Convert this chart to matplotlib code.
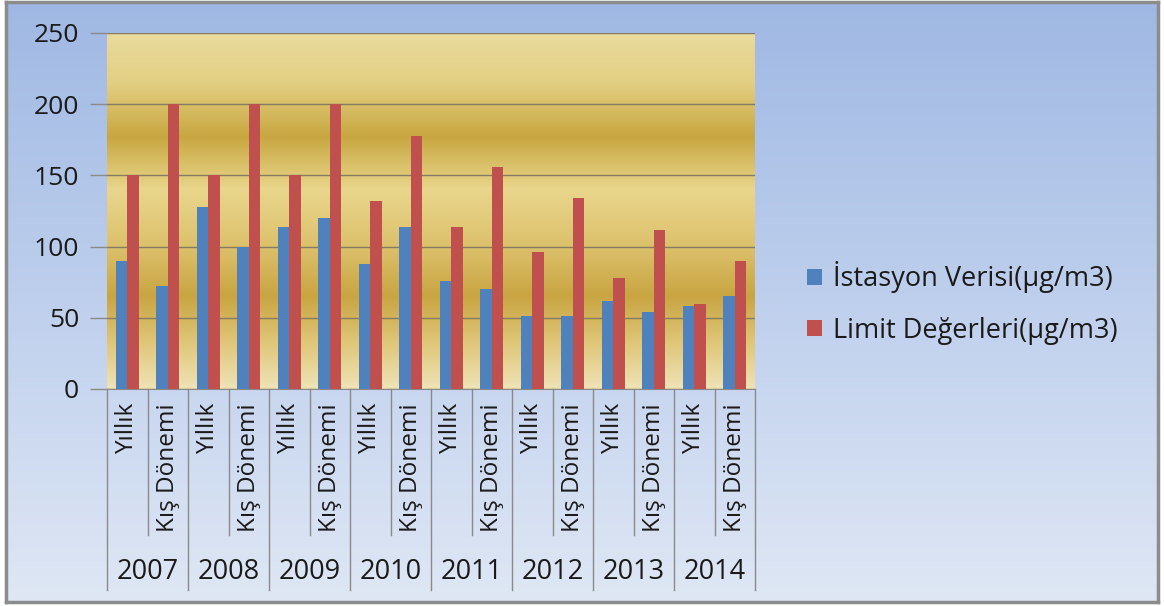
import numpy as np
import matplotlib
matplotlib.use("Agg")
import matplotlib.pyplot as plt
from matplotlib.colors import LinearSegmentedColormap
from matplotlib.patches import Patch
from matplotlib.lines import Line2D
import matplotlib.transforms as mtransforms

plt.rcParams['font.family'] = ['Open Sans', 'DejaVu Sans']

years = ["2007", "2008", "2009", "2010", "2011", "2012", "2013", "2014"]
periods = ["Yıllık", "Kış Dönemi"]
station = [90, 72, 128, 100, 114, 120, 88, 114, 76, 70, 51, 51, 62, 54, 58, 65]
limits = [150, 200, 150, 200, 150, 200, 132, 178, 114, 156, 96, 134, 78, 112, 60, 90]
series_names = ["İstasyon Verisi(µg/m3)", "Limit Değerleri(µg/m3)"]
yticks = [0, 50, 100, 150, 200, 250]

W, H = 1164, 606
fig = plt.figure(figsize=(W / 100, H / 100), dpi=100)
fig.patch.set_facecolor("white")

# framed blue gradient background
bg = fig.add_axes([6 / W, 1 - 602 / H, (1158 - 6) / W, (602 - 2) / H], zorder=-10)
bg_cmap = LinearSegmentedColormap.from_list(
    "bg", [(0.0, "#dfe7f4"), (0.45, "#c2d2ee"), (1.0, "#9fb8e3")])
bg.imshow(np.linspace(0, 1, 256).reshape(-1, 1), cmap=bg_cmap, origin="lower",
          aspect="auto", extent=(0, 1, 0, 1))
bg.set_xticks([])
bg.set_yticks([])
for s in bg.spines.values():
    s.set_color("#8c8c8c")
    s.set_linewidth(2.5)

# plot area
x0, x1, y0, y1 = 107, 755, 33, 389
ax = fig.add_axes([x0 / W, 1 - y1 / H, (x1 - x0) / W, (y1 - y0) / H])
n = len(station)
x = np.arange(n)
ax.set_xlim(-0.5, n - 0.5)
ax.set_ylim(0, 250)

gold = LinearSegmentedColormap.from_list("gold", [
    (0.0, "#efe3b6"), (0.13, "#dfc678"), (0.26, "#c9a542"), (0.40, "#dcc16c"),
    (0.56, "#e9d68c"), (0.71, "#c8a741"), (0.86, "#e3cf82"), (1.0, "#e9db9e")])
ax.imshow(np.linspace(0, 1, 512).reshape(-1, 1), cmap=gold, origin="lower",
          aspect="auto", extent=(-0.5, n - 0.5, 0, 250), zorder=0)

bw = 0.28
ax.bar(x - bw / 2, station, bw, color="#4f81bd", zorder=3, label=series_names[0])
ax.bar(x + bw / 2, limits, bw, color="#c0504d", zorder=3, label=series_names[1])

ax.set_yticks(yticks)
ax.set_yticklabels([str(v) for v in yticks], fontsize=19, color="#1a1a1a")
ax.yaxis.grid(True, color="#857b60", linewidth=1.0, zorder=1)
ax.tick_params(axis="y", length=12, width=1.0, color="#8a8a8a", pad=8)
ax.set_xticks([])
for side in ["left", "right", "top"]:
    ax.spines[side].set_visible(False)
ax.spines["bottom"].set_color("#8a8a8a")
ax.set_axisbelow(False)

# two-level category axis
tr = mtransforms.blended_transform_factory(ax.transData, ax.transAxes)
def frac(py):
    return (y1 - py) / (y1 - y0)

for i in range(n):
    ax.text(i, frac(403), periods[i % 2], rotation=90, ha="center", va="top",
            fontsize=17.5, color="#1a1a1a", transform=tr, clip_on=False)
for i in range(n + 1):
    bottom = frac(590) if i % 2 == 0 else frac(535)
    ax.add_line(Line2D([i - 0.5, i - 0.5], [0, bottom], transform=tr,
                       color="#8a8a8a", linewidth=1.0, clip_on=False))
for j, yr in enumerate(years):
    ax.text(2 * j + 0.5, frac(572), yr, ha="center", va="center",
            fontsize=19.5, color="#1a1a1a", transform=tr, clip_on=False)

handles = [Patch(facecolor="#4f81bd"), Patch(facecolor="#c0504d")]
fig.legend(handles, series_names, loc="center left",
           bbox_to_anchor=(783 / W, 1 - 303 / H), frameon=False, fontsize=19.5,
           handlelength=0.55, handleheight=0.55, handletextpad=0.4,
           labelspacing=0.85, labelcolor="#1a1a1a")

fig.savefig("out.png", dpi=100)
